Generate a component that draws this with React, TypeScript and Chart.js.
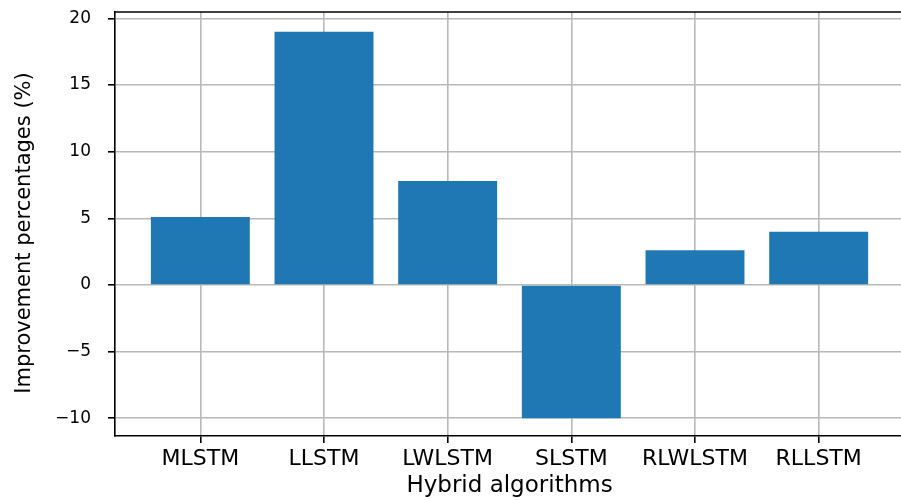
import React, { useEffect, useRef } from "react";
import { Chart, registerables } from "chart.js";

Chart.register(...registerables);

const categories = ["MLSTM", "LLSTM", "LWLSTM", "SLSTM", "RLWLSTM", "RLLSTM"];
const improvement = [5.1, 19.0, 7.8, -10.0, 2.6, 4.0];
const yTicks = [-10, -5, 0, 5, 10, 15, 20];
const xTitle = "Hybrid algorithms";
const yTitle = "Improvement percentages (%)";

const FONT = "'DejaVu Sans', sans-serif";

const framePlugin = {
  id: "frameAndTitle",
  afterDraw(chart: any) {
    const { ctx, chartArea } = chart;
    ctx.save();
    ctx.strokeStyle = "#000";
    ctx.lineWidth = 1.6;
    ctx.beginPath();
    ctx.moveTo(chartArea.left, chartArea.top);
    ctx.lineTo(chartArea.right, chartArea.top);
    ctx.stroke();
    // y axis title, rotated
    ctx.translate(25, (chartArea.top + chartArea.bottom) / 2 + 9);
    ctx.rotate(-Math.PI / 2);
    ctx.fillStyle = "#000";
    ctx.font = `21px ${FONT}`;
    ctx.textAlign = "center";
    ctx.textBaseline = "middle";
    ctx.fillText(yTitle, 0, 0);
    ctx.restore();
  },
};

export default function App() {
  const ref = useRef<HTMLCanvasElement>(null);

  useEffect(() => {
    if (!ref.current) return;
    const chart = new Chart(ref.current, {
      type: "bar",
      data: {
        datasets: [
          {
            data: improvement.map((v, i) => ({ x: i, y: v })),
            backgroundColor: "#1f77b4",
            borderWidth: 0,
            barPercentage: 0.8,
            categoryPercentage: 1.0,
          },
        ],
      },
      options: {
        animation: false,
        responsive: false,
        events: [],
        layout: { padding: { top: 12, right: 6, left: 0, bottom: 0 } },
        plugins: { legend: { display: false }, tooltip: { enabled: false } },
        scales: {
          x: {
            type: "linear",
            min: -0.69,
            max: 5.69,
            offset: false,
            z: 1,
            afterBuildTicks: (scale: any) => {
              scale.ticks = categories.map((_, i) => ({ value: i }));
            },
            afterFit: (scale: any) => {
              scale.height = 64;
              scale.paddingLeft = 0;
              scale.paddingRight = 0;
            },
            ticks: {
              autoSkip: false,
              maxRotation: 0,
              padding: 3,
              color: "#000",
              font: { family: FONT, size: 22 },
              callback: (v: any) => categories[v as number] ?? "",
            },
            grid: {
              offset: false,
              color: "#b8b8b8",
              lineWidth: 1.6,
              drawTicks: true,
              tickLength: 7,
              tickColor: "#000",
              tickWidth: 1.6,
            },
            border: { display: true, color: "#000", width: 1.6 },
            title: {
              display: true,
              text: xTitle,
              color: "#000",
              font: { family: FONT, size: 23 },
              padding: { top: 0, bottom: 0 },
            },
          },
          y: {
            type: "linear",
            min: -11.33,
            max: 20.48,
            z: 1,
            afterBuildTicks: (scale: any) => {
              scale.ticks = yTicks.map((v) => ({ value: v }));
            },
            afterFit: (scale: any) => {
              scale.width = 115;
              scale.paddingTop = 0;
              scale.paddingBottom = 0;
            },
            ticks: {
              padding: 17,
              color: "#000",
              font: { family: FONT, size: 17 },
              callback: (v: any) => (v < 0 ? "\u2212" + Math.abs(v) : String(v)),
            },
            grid: {
              color: "#b8b8b8",
              lineWidth: 1.6,
              drawTicks: true,
              tickLength: 7,
              tickColor: "#000",
              tickWidth: 1.6,
            },
            border: { display: true, color: "#000", width: 1.6 },
          },
        },
      },
      plugins: [framePlugin],
    });
    return () => chart.destroy();
  }, []);

  return (
    <div
      style={{
        position: "fixed",
        left: 0,
        top: 0,
        width: 901,
        height: 500,
        overflow: "hidden",
        background: "#fff",
      }}
    >
      <canvas ref={ref} width={910} height={500} style={{ display: "block" }} />
    </div>
  );
}
